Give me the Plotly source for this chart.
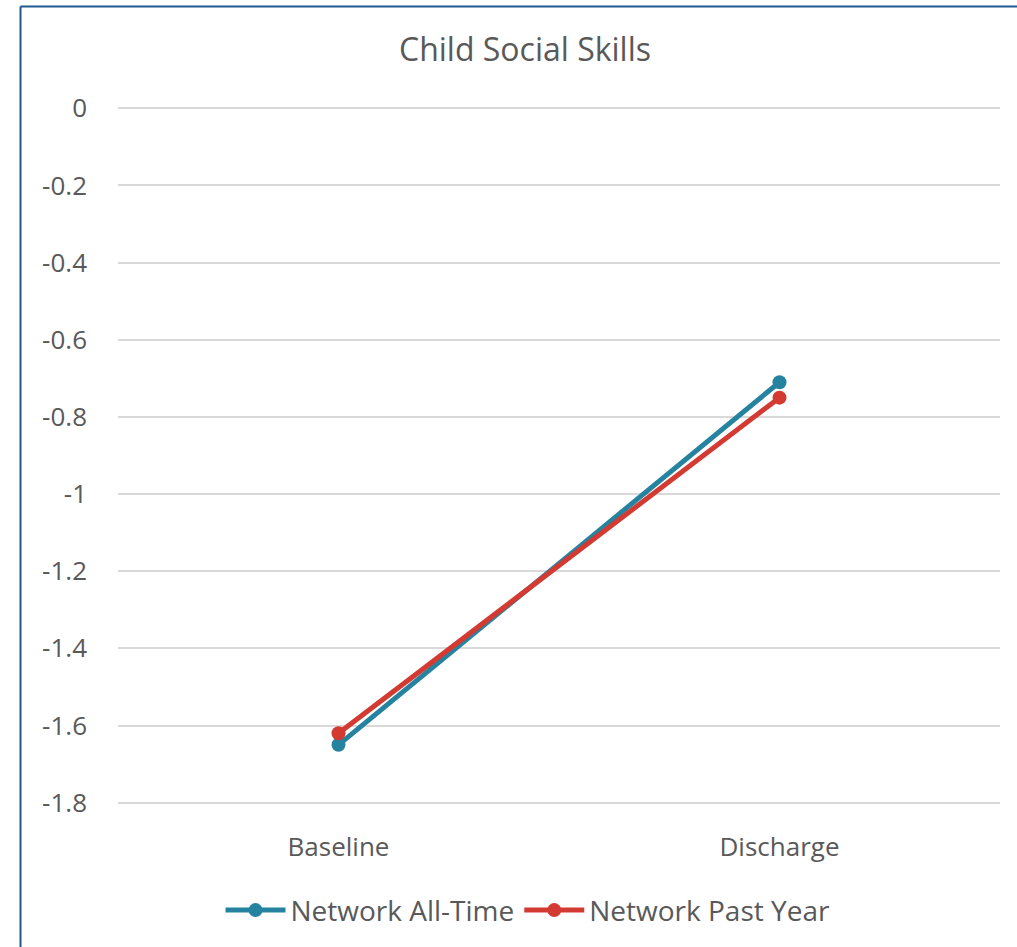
import plotly.graph_objects as go

categories = ["Baseline", "Discharge"]
all_time = [-1.65, -0.71]
past_year = [-1.62, -0.75]
tick_vals = [0, -0.2, -0.4, -0.6, -0.8, -1, -1.2, -1.4, -1.6, -1.8]
tick_text = ["0", "-0.2", "-0.4", "-0.6", "-0.8", "-1", "-1.2", "-1.4", "-1.6", "-1.8"]

W, H = 1017, 947
L, R, T, B = 118, 17, 106, 142
FONT = "Open Sans, Noto Sans, sans-serif"
GREY = "#595959"
PW, PH = W - L - R, H - T - B

fig = go.Figure()
fig.add_trace(go.Scatter(
    x=categories, y=all_time, name="Network All-Time", mode="lines+markers",
    line=dict(color="#2683A0", width=5), marker=dict(size=14, color="#2683A0"),
))
fig.add_trace(go.Scatter(
    x=categories, y=past_year, name="Network Past Year", mode="lines+markers",
    line=dict(color="#D33A32", width=5), marker=dict(size=14, color="#D33A32"),
))

fig.update_layout(
    width=W, height=H,
    margin=dict(l=L, r=R, t=T, b=B),
    paper_bgcolor="white", plot_bgcolor="white",
    font=dict(family=FONT, color=GREY, size=24),
    title=dict(text="Child Social Skills", x=(525 - L) / PW, xref="paper", xanchor="center",
               y=1 - 50 / H, yanchor="middle", font=dict(size=32, color=GREY)),
    showlegend=True,
    legend=dict(orientation="h", x=(528 - L) / PW, xanchor="center",
                y=-0.115, yanchor="top",
                font=dict(size=28, color=GREY), itemwidth=60, tracegroupgap=0),
    xaxis=dict(type="category", range=[-0.5, 1.5], showgrid=False, zeroline=False,
               showline=False, ticks="", tickfont=dict(size=26, color=GREY),
               ticklabelstandoff=24),
    yaxis=dict(range=[-1.806, 0.006], tickvals=tick_vals, ticktext=tick_text,
               showgrid=True, gridcolor="#D9D9D9", gridwidth=1.5,
               zeroline=False, showline=False, ticks="",
               tickfont=dict(size=26, color=GREY), ticklabelstandoff=30),
    shapes=[
        dict(type="line", xref="paper", yref="paper",
             x0=-(L - 20.5) / PW, x1=1 + R / PW + 0.01,
             y0=1 + (T - 6.5) / PH, y1=1 + (T - 6.5) / PH,
             line=dict(color="#1F5A8F", width=2)),
        dict(type="line", xref="paper", yref="paper",
             x0=-(L - 20.5) / PW, x1=-(L - 20.5) / PW,
             y0=1 + (T - 6.5) / PH, y1=-(B + 5) / PH,
             line=dict(color="#1F5A8F", width=2)),
    ],
)

fig.write_html("out.html")
